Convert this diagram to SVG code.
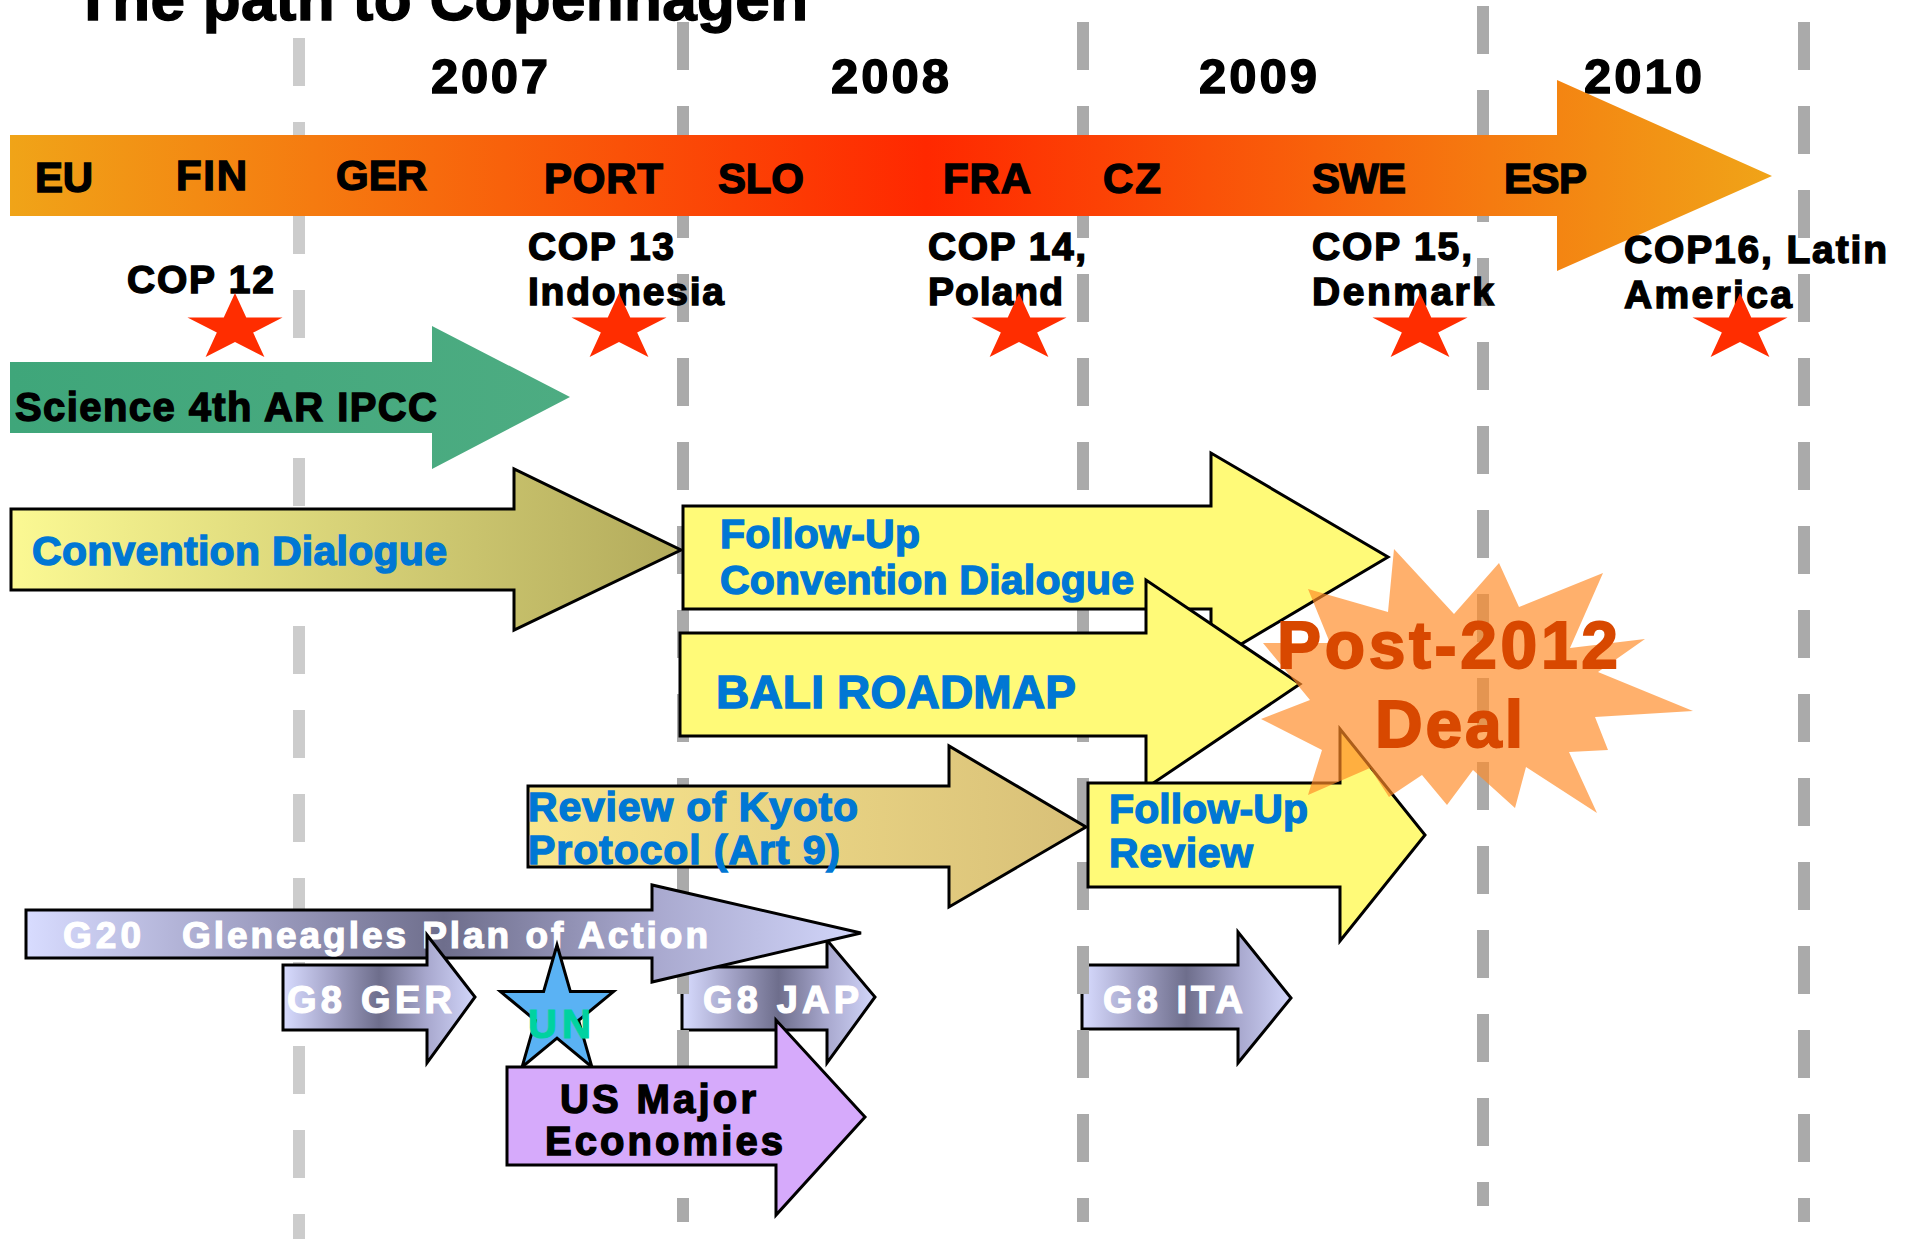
<svg xmlns="http://www.w3.org/2000/svg" xmlns:xlink="http://www.w3.org/1999/xlink" width="1908" height="1239" viewBox="0 0 1908 1239">
<style>
.t{font-family:"Liberation Sans",Arial,Helvetica,sans-serif;font-weight:bold}
.blk{fill:#000;stroke:#000;stroke-width:1.4}
.blu{fill:#0077D4;stroke:#0077D4;stroke-width:1.4}
.wht{fill:#fff;stroke:#fff;stroke-width:1.2}
.ol{stroke:#000;stroke-width:3;stroke-linejoin:miter}
.grid{fill:none;stroke-width:12;stroke-dasharray:48 36}
.yel{fill:#FFFA78}
.metal{fill:url(#gMetal)}
</style>
<defs>
<linearGradient id="gBar" x1="0" y1="0" x2="1" y2="0">
<stop offset="0" stop-color="#F0A418"/>
<stop offset="0.52" stop-color="#FF2800"/>
<stop offset="1" stop-color="#F0A418"/>
</linearGradient>
<linearGradient id="gGreen" x1="0" y1="0" x2="1" y2="0">
<stop offset="0" stop-color="#3FA67A"/>
<stop offset="1" stop-color="#4DAC82"/>
</linearGradient>
<linearGradient id="gConv" x1="0" y1="0" x2="1" y2="0">
<stop offset="0" stop-color="#FBF993"/>
<stop offset="1" stop-color="#B3AB5C"/>
</linearGradient>
<linearGradient id="gKyoto" x1="0" y1="0" x2="1" y2="0">
<stop offset="0" stop-color="#F9E68E"/>
<stop offset="1" stop-color="#D8C078"/>
</linearGradient>
<linearGradient id="gMetal" x1="0" y1="0" x2="1" y2="0">
<stop offset="0" stop-color="#D8DCFF"/>
<stop offset="0.25" stop-color="#A4A4C8"/>
<stop offset="0.5" stop-color="#6E6E8C"/>
<stop offset="0.75" stop-color="#A8A8CE"/>
<stop offset="1" stop-color="#D2D6FA"/>
</linearGradient>
<polygon id="rstar" points="0,-35.4 11.25,-10.9 47.55,-10.9 18.15,4.2 29.4,28.6 0,13.5 -29.4,28.6 -18.15,4.2 -47.55,-10.9 -11.25,-10.9" fill="#FF2D00"/>
</defs>

<rect width="1908" height="1239" fill="#fff"/>

<g id="g8-jap">
<polygon class="metal ol" points="682,967 827,967 827,940 875,997 827,1063 827,1030 682,1030"/>
<text class="t wht" x="703" y="1013" font-size="38" textLength="156" lengthAdjust="spacing">G8 JAP</text>
</g>
<g id="g8-ita">
<polygon class="metal ol" points="1082,965 1238,965 1238,932 1291,998 1238,1063 1238,1029 1082,1029"/>
<text class="t wht" x="1103" y="1013" font-size="38" textLength="140" lengthAdjust="spacing">G8 ITA</text>
</g>

<g id="gridlines">
<line class="grid" x1="299" y1="38" x2="299" y2="1239" stroke="#CCCCCC"/>
<line class="grid" x1="683" y1="22" x2="683" y2="1222" stroke="#AAAAAA"/>
<line class="grid" x1="1083" y1="22" x2="1083" y2="1222" stroke="#AAAAAA"/>
<line class="grid" x1="1483" y1="6" x2="1483" y2="1206" stroke="#AAAAAA"/>
<line class="grid" x1="1804" y1="22" x2="1804" y2="1222" stroke="#AAAAAA"/>
</g>

<g id="title">
<text class="t blk" x="74" y="20" font-size="62" textLength="734" lengthAdjust="spacing">The path to Copenhagen</text>
</g>

<g id="years">
<text class="t blk" x="431" y="93" font-size="49" textLength="117" lengthAdjust="spacing">2007</text>
<text class="t blk" x="831" y="93" font-size="49" textLength="118" lengthAdjust="spacing">2008</text>
<text class="t blk" x="1199" y="93" font-size="49" textLength="118" lengthAdjust="spacing">2009</text>
<text class="t blk" x="1584" y="93" font-size="49" textLength="118" lengthAdjust="spacing">2010</text>
</g>

<g id="timeline">
<polygon points="10,135 1557,135 1557,80 1772,176 1557,271 1557,216 10,216" fill="url(#gBar)"/>
<text class="t blk" x="35" y="192" font-size="42" textLength="58" lengthAdjust="spacing">EU</text>
<text class="t blk" x="176" y="190" font-size="42" textLength="71" lengthAdjust="spacing">FIN</text>
<text class="t blk" x="336" y="190" font-size="42" textLength="91" lengthAdjust="spacing">GER</text>
<text class="t blk" x="544" y="193" font-size="42" textLength="119" lengthAdjust="spacing">PORT</text>
<text class="t blk" x="718" y="193" font-size="42" textLength="86" lengthAdjust="spacing">SLO</text>
<text class="t blk" x="943" y="193" font-size="42" textLength="88" lengthAdjust="spacing">FRA</text>
<text class="t blk" x="1103" y="193" font-size="42" textLength="58" lengthAdjust="spacing">CZ</text>
<text class="t blk" x="1312" y="193" font-size="42" textLength="94" lengthAdjust="spacing">SWE</text>
<text class="t blk" x="1504" y="193" font-size="42" textLength="83" lengthAdjust="spacing">ESP</text>
</g>

<g id="cop12">
<text class="t blk" x="127" y="293" font-size="39" textLength="147" lengthAdjust="spacing">COP 12</text>
<use xlink:href="#rstar" href="#rstar" x="235" y="328.4"/>
</g>
<g id="cop13">
<text class="t blk" x="528" y="260" font-size="39" textLength="146" lengthAdjust="spacing">COP 13</text>
<text class="t blk" x="528" y="305" font-size="39" textLength="196" lengthAdjust="spacing">Indonesia</text>
<use xlink:href="#rstar" href="#rstar" x="619" y="328.4"/>
</g>
<g id="cop14">
<text class="t blk" x="928" y="260" font-size="39" textLength="158" lengthAdjust="spacing">COP 14,</text>
<text class="t blk" x="928" y="305" font-size="39" textLength="135" lengthAdjust="spacing">Poland</text>
<use xlink:href="#rstar" href="#rstar" x="1019" y="328.4"/>
</g>
<g id="cop15">
<text class="t blk" x="1312" y="260" font-size="39" textLength="160" lengthAdjust="spacing">COP 15,</text>
<text class="t blk" x="1312" y="305" font-size="39" textLength="182" lengthAdjust="spacing">Denmark</text>
<use xlink:href="#rstar" href="#rstar" x="1420" y="328.4"/>
</g>
<g id="cop16">
<text class="t blk" x="1624" y="263" font-size="39" textLength="263" lengthAdjust="spacing">COP16, Latin</text>
<text class="t blk" x="1624" y="308" font-size="39" textLength="168" lengthAdjust="spacing">America</text>
<use xlink:href="#rstar" href="#rstar" x="1740" y="328.4"/>
</g>

<g id="science">
<polygon points="10,362 432,362 432,326 570,397 432,469 432,433 10,433" fill="url(#gGreen)"/>
<text class="t blk" x="15" y="421" font-size="40" textLength="422" lengthAdjust="spacing">Science 4th AR IPCC</text>
</g>

<g id="convention-dialogue">
<polygon class="ol" points="11,509 514,509 514,469 681,550 514,630 514,590 11,590" fill="url(#gConv)"/>
<text class="t blu" x="32" y="565" font-size="41" textLength="415" lengthAdjust="spacing">Convention Dialogue</text>
</g>

<g id="follow-up-convention">
<polygon class="ol yel" points="683,506 1211,506 1211,453 1388,557 1211,662 1211,609 683,609"/>
<text class="t blu" x="720" y="548" font-size="41" textLength="200" lengthAdjust="spacing">Follow-Up</text>
<text class="t blu" x="720" y="594" font-size="41" textLength="414" lengthAdjust="spacing">Convention Dialogue</text>
</g>

<g id="bali-roadmap">
<polygon class="ol yel" points="680,633 1146,633 1146,580 1300,684 1146,788 1146,736 680,736"/>
<text class="t blu" x="716" y="708" font-size="46" textLength="360" lengthAdjust="spacing">BALI ROADMAP</text>
</g>

<g id="review-kyoto">
<polygon class="ol" points="528,786 949,786 949,746 1086,827 949,907 949,867 528,867" fill="url(#gKyoto)"/>
<text class="t blu" x="528" y="821" font-size="41" textLength="330" lengthAdjust="spacing">Review of Kyoto</text>
<text class="t blu" x="528" y="864" font-size="41" textLength="312" lengthAdjust="spacing">Protocol (Art 9)</text>
</g>

<g id="follow-up-review">
<polygon class="ol yel" points="1088,783 1340,783 1340,729 1425,835 1340,941 1340,887 1088,887"/>
<text class="t blu" x="1109" y="823" font-size="41" textLength="199" lengthAdjust="spacing">Follow-Up</text>
<text class="t blu" x="1109" y="867" font-size="41" textLength="144" lengthAdjust="spacing">Review</text>
</g>

<g id="post-2012-deal">
<polygon points="1308,589 1388,612 1394,549 1454,614 1499,563 1519,607 1603,573 1570,648 1645,639 1598,672 1693,711 1595,717 1608,750 1569,752 1597,813 1526,767 1515,808 1473,770 1447,805 1422,775 1389,797 1370,768 1308,795 1322,750 1261,719 1310,700 1263,643 1330,643" fill="#FF8A26" fill-opacity="0.68"/>
<text class="t" x="1277" y="668" font-size="66" textLength="341" lengthAdjust="spacing" fill="#D84800" stroke="#D84800" stroke-width="1.8">Post-2012</text>
<text class="t" x="1375" y="747" font-size="66" textLength="148" lengthAdjust="spacing" fill="#D84800" stroke="#D84800" stroke-width="1.8">Deal</text>
</g>

<g id="g20-gleneagles">
<polygon class="metal ol" points="26,910 652,910 652,885 861,933 652,982 652,958 26,958"/>
<text class="t wht" x="63" y="948" font-size="37" textLength="78" lengthAdjust="spacing">G20</text>
<text class="t wht" x="182" y="948" font-size="37" textLength="526" lengthAdjust="spacing">Gleneagles Plan of Action</text>
</g>

<g id="g8-ger">
<polygon class="metal ol" points="283,965 427,965 427,935 475,997 427,1063 427,1030 283,1030"/>
<text class="t wht" x="287" y="1013" font-size="38" textLength="165" lengthAdjust="spacing">G8 GER</text>
</g>

<g id="un">
<polygon class="ol" points="557,945 570.4,991.6 613.5,991.6 578.6,1020.4 591.9,1066.9 557,1038.1 522.1,1066.9 535.4,1020.4 500.5,991.6 543.6,991.6" fill="#5AB2F4"/>
<text class="t" x="528" y="1038" font-size="40" textLength="63" lengthAdjust="spacing" fill="#00D2A0" stroke="#00D2A0" stroke-width="1.2">UN</text>
</g>

<g id="us-major-economies">
<polygon class="ol" points="507,1067 776,1067 776,1020 865,1117 776,1215 776,1165 507,1165" fill="#D6AAFB"/>
<text class="t blk" x="560" y="1113" font-size="40" textLength="196" lengthAdjust="spacing">US Major</text>
<text class="t blk" x="545" y="1155" font-size="40" textLength="238" lengthAdjust="spacing">Economies</text>
</g>
</svg>
